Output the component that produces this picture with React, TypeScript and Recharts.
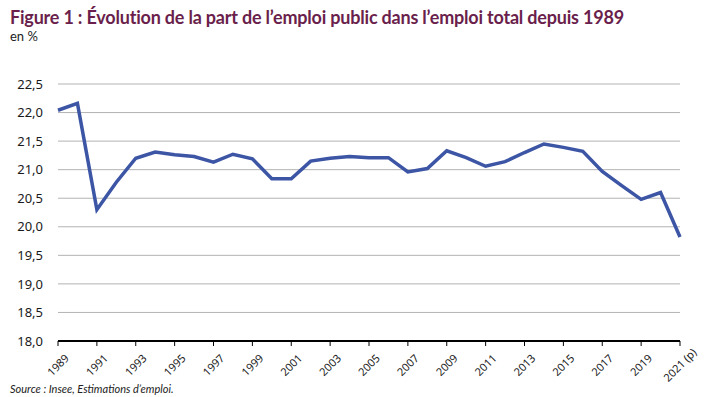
import React from "react"
import { LineChart, Line, XAxis, YAxis, CartesianGrid, ReferenceLine } from "recharts"

const years = [
  "1989", "1990", "1991", "1992", "1993", "1994", "1995", "1996", "1997", "1998",
  "1999", "2000", "2001", "2002", "2003", "2004", "2005", "2006", "2007", "2008",
  "2009", "2010", "2011", "2012", "2013", "2014", "2015", "2016", "2017", "2018",
  "2019", "2020", "2021 (p)",
]

const publicShare = [
  22.04, 22.16, 20.3, 20.78, 21.2, 21.31, 21.26, 21.23, 21.13, 21.27,
  21.19, 20.84, 20.84, 21.15, 21.2, 21.23, 21.21, 21.21, 20.96, 21.02,
  21.33, 21.21, 21.06, 21.14, 21.3, 21.45, 21.39, 21.32, 20.97, 20.72,
  20.48, 20.6, 19.82,
]

const yTicks = [18, 18.5, 19, 19.5, 20, 20.5, 21, 21.5, 22, 22.5]

const data = years.map((year, i) => ({ year, value: publicShare[i] }))

const fmt = (v: number) => v.toFixed(1).replace(".", ",")

// étiquettes d'années inclinées à 45°, centrées sous la graduation
function YearTick(props: any) {
  const { x, y, payload } = props
  const cy = y + 17
  return (
    <g style={{ transform: `translate(${x}px, ${cy}px) rotate(-45deg)` }}>
      <text
        x={0}
        y={4}
        textAnchor="middle"
        fontSize={11}
        fill="#1a1a1a"
        fontFamily="'Noto Sans', sans-serif"
      >
        {payload.value}
      </text>
    </g>
  )
}

export default function App() {
  return (
    <div
      style={{
        position: "fixed",
        left: 0,
        top: 0,
        width: 714,
        height: 397,
        background: "#fff",
        fontFamily: "Lato, sans-serif",
      }}
    >
      <div
        style={{
          position: "absolute",
          left: 10,
          top: 6,
          fontSize: 18,
          lineHeight: "22px",
          fontWeight: 700,
          color: "#6a1f4c",
          whiteSpace: "nowrap",
          letterSpacing: -0.2,
        }}
      >
        Figure 1 : Évolution de la part de l’emploi public dans l’emploi total depuis 1989
      </div>
      <div
        style={{ position: "absolute", left: 10, top: 29, fontSize: 13, lineHeight: "15px", color: "#222" }}
      >
        en %
      </div>

      <div style={{ position: "absolute", left: 0, top: 0 }}>
        <LineChart width={714} height={397} data={data} margin={{ top: 84, right: 34, bottom: 0, left: 0 }}>
          <CartesianGrid vertical={false} stroke="#b3b3b3" strokeWidth={1} />
          <XAxis
            dataKey="year"
            interval={1}
            height={56}
            tick={YearTick}
            tickLine={{ stroke: "#000" }}
            tickSize={5}
            axisLine={false}
            padding={{ left: 0, right: 0 }}
          />
          <YAxis
            domain={[18, 22.5]}
            ticks={yTicks}
            width={58}
            axisLine={false}
            tickLine={false}
            tickSize={0}
            tickMargin={15}
            tickFormatter={fmt}
            tick={{ fontSize: 13, fill: "#1a1a1a", fontFamily: "'Noto Sans', sans-serif" }}
          />
          <ReferenceLine y={18} stroke="#000" strokeWidth={2} />
          <Line
            type="linear"
            dataKey="value"
            stroke="#3c55a5"
            strokeWidth={3.5}
            dot={false}
            isAnimationActive={false}
          />
        </LineChart>
      </div>

      <div
        style={{
          position: "absolute",
          left: 10,
          top: 382,
          fontSize: 11,
          lineHeight: "13px",
          fontStyle: "italic",
          color: "#222",
        }}
      >
        Source : Insee, Estimations d’emploi.
      </div>
    </div>
  )
}
